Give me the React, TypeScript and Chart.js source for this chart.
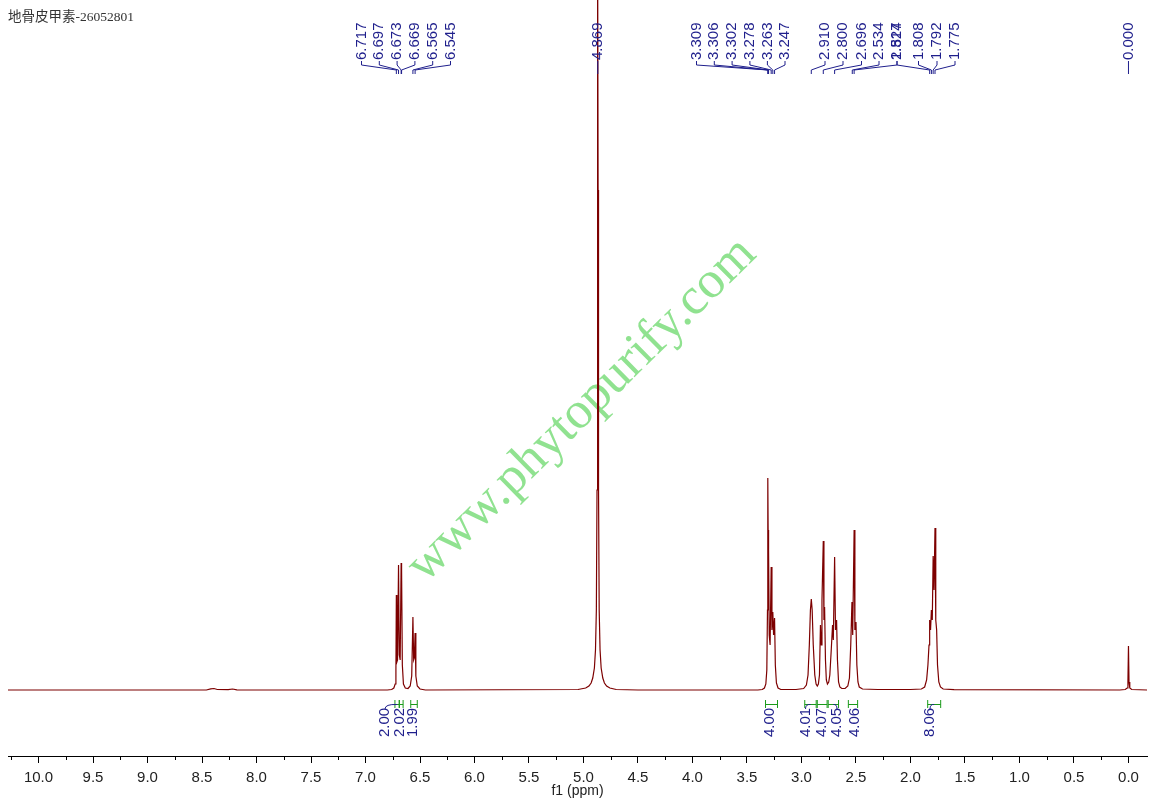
import React, { useEffect, useRef } from "react";
import { Chart, registerables } from "chart.js";

Chart.register(...registerables);

// ---------- data ----------
const TITLE = "地骨皮甲素-26052801";
const X_TITLE = "f1 (ppm)";
const X_MIN = -0.17;
const X_MAX = 10.28;
const TICK_VALUES = [0, 0.5, 1, 1.5, 2, 2.5, 3, 3.5, 4, 4.5, 5, 5.5, 6, 6.5, 7, 7.5, 8, 8.5, 9, 9.5, 10];
const MINOR_TICKS = [0.25, 0.75, 1.25, 1.75, 2.25, 2.75, 3.25, 3.75, 4.25, 4.75, 5.25, 5.75, 6.25, 6.75, 7.25, 7.75, 8.25, 8.75, 9.25, 9.75, 10.25];

// spectrum trace: chemical shift (ppm) and intensity
const SPEC_PPM = [
  10.28, 8.46, 8.42, 8.39, 8.36, 8.26, 8.22, 8.18, 6.8,
  6.76, 6.74, 6.728, 6.721, 6.717, 6.712, 6.706, 6.697, 6.69, 6.682, 6.673, 6.669, 6.662, 6.652, 6.635, 6.61, 6.59, 6.576, 6.565, 6.558, 6.552, 6.545, 6.538, 6.525, 6.5, 6.45,
  5.05, 4.98, 4.95, 4.93, 4.915, 4.9, 4.89, 4.882, 4.876, 4.872, 4.869, 4.866, 4.862, 4.856, 4.848, 4.838, 4.823, 4.808, 4.788, 4.758, 4.7,
  4.5, 3.4,
  3.36, 3.34, 3.327, 3.318, 3.312, 3.309, 3.306, 3.302, 3.296, 3.288, 3.278, 3.271, 3.263, 3.256, 3.247, 3.24, 3.23, 3.215, 3.19,
  3.05, 2.98, 2.955, 2.94, 2.928, 2.918, 2.91, 2.902, 2.892, 2.878, 2.866, 2.855,
  2.845, 2.835, 2.826, 2.818, 2.812, 2.8, 2.794, 2.788, 2.78, 2.772, 2.762, 2.75,
  2.74, 2.727, 2.715, 2.708, 2.696, 2.688, 2.678, 2.67, 2.66, 2.648, 2.63, 2.6,
  2.575, 2.56, 2.548, 2.537, 2.53, 2.517, 2.51, 2.5, 2.492, 2.482, 2.47, 2.44, 2.3, 2.0,
  1.9, 1.87, 1.852, 1.84, 1.83, 1.824, 1.816, 1.808, 1.8, 1.792, 1.784, 1.775, 1.768, 1.76, 1.752, 1.74, 1.725, 1.7, 1.6,
  0.08, 0.03, 0.012, 0.005, 0.0, -0.005, -0.012, -0.03, -0.17,
];
const SPEC_INT = [
  0, 0, 1.2, 1.5, 0.5, 0.3, 1, 0.2, 0,
  0.5, 2, 6, 20, 95, 28, 30, 125, 35, 30, 127, 120, 25, 6, 2, 1.5, 4, 14, 73, 30, 32, 57, 14, 4, 1, 0,
  0.5, 2, 4, 7, 12, 22, 40, 80, 200, 500, 760, 500, 200, 80, 40, 22, 12, 7, 4, 2, 0.5,
  0, 0,
  0.5, 2, 6, 20, 80, 212, 160, 140, 55, 45, 123, 60, 78, 55, 72, 25, 7, 2, 0.5,
  0.5, 1.5, 5, 15, 45, 80, 91, 80, 45, 15, 6, 4,
  6, 15, 65, 45, 90, 149, 70, 83, 30, 10, 6, 8,
  15, 40, 65, 50, 133, 60, 70, 30, 8, 3, 1.5, 1.5,
  4, 12, 45, 88, 55, 160, 60, 68, 25, 8, 3, 1, 0.5, 0.5,
  1, 3, 10, 25, 45, 70, 60, 80, 70, 134, 100, 162, 70, 60, 25, 8, 3, 1, 0.3,
  0, 0.5, 2, 8, 44, 8, 2, 0.5, 0,
];

// peak picking labels
const PEAKS_AROMATIC = [6.717, 6.697, 6.673, 6.669, 6.565, 6.545];
const PEAKS_MID = [3.309, 3.306, 3.302, 3.278, 3.263, 3.247];
const PEAKS_ALIPH = [2.91, 2.8, 2.696, 2.534, 2.517, 1.824, 1.808, 1.792, 1.775];
const PEAKS_SINGLE = [4.869, 0.0];

// integrals
const INT_VALUES = [2.0, 2.02, 1.99, 4.0, 4.01, 4.07, 4.05, 4.06, 8.06];
const INT_FROM = [6.73, 6.69, 6.585, 3.33, 2.97, 2.855, 2.755, 2.57, 1.842];
const INT_TO = [6.69, 6.655, 6.525, 3.22, 2.865, 2.765, 2.66, 2.485, 1.723];

// ---------- layout (text positions, px) ----------
const LABEL_X_AROMATIC = [361.5, 379.3, 397.1, 414.9, 432.7, 450.5];
const LABEL_X_MID = [696.5, 714.3, 732.1, 749.9, 767.4, 785];
const LABEL_X_ALIPH = [825, 843, 861.5, 879, 897, 897, 918.5, 937, 955];
const INT_LABEL_X = [385, 400, 413, 770, 805.5, 821.5, 837, 855, 930];

const SPEC_COLOR = "#7d0000";
const LABEL_COLOR = "#1f1f8c";
const INT_COLOR = "#1a9a1a";
const FONT = "'Liberation Sans', Arial, sans-serif";

const annotations = {
  id: "nmrAnnotations",
  beforeDatasetsDraw(chart: any) {
    const ctx = chart.ctx;
    ctx.save();
    ctx.translate(582, 410);
    ctx.rotate((-44.6 * Math.PI) / 180);
    ctx.font = "52px 'Liberation Serif', 'Times New Roman', serif";
    ctx.fillStyle = "#90e290";
    ctx.textAlign = "center";
    ctx.textBaseline = "middle";
    ctx.fillText("www.phytopurify.com", 0, 0);
    ctx.restore();
  },
  afterDraw(chart: any) {
    const ctx = chart.ctx;
    const xs = chart.scales.x;
    const area = chart.chartArea;

    // minor ticks
    ctx.save();
    ctx.strokeStyle = "#000";
    ctx.lineWidth = 1;
    ctx.beginPath();
    for (const v of MINOR_TICKS) {
      const px = Math.round(xs.getPixelForValue(v)) + 0.5;
      ctx.moveTo(px, area.bottom);
      ctx.lineTo(px, area.bottom + 4);
    }
    ctx.stroke();
    ctx.restore();

    // peak labels
    const drawLabel = (val: number, lx: number) => {
      const px = xs.getPixelForValue(val);
      ctx.save();
      ctx.translate(lx, 60);
      ctx.rotate(-Math.PI / 2);
      ctx.fillStyle = LABEL_COLOR;
      ctx.font = "15px " + FONT;
      ctx.textAlign = "left";
      ctx.textBaseline = "middle";
      ctx.fillText(val.toFixed(3), 0, 0);
      ctx.restore();
      ctx.save();
      ctx.strokeStyle = LABEL_COLOR;
      ctx.lineWidth = 1;
      ctx.beginPath();
      ctx.moveTo(lx, 61);
      ctx.lineTo(lx, 65);
      ctx.lineTo(px, 70);
      ctx.lineTo(px, 74);
      ctx.stroke();
      ctx.restore();
    };
    PEAKS_AROMATIC.forEach((v, i) => drawLabel(v, LABEL_X_AROMATIC[i]));
    PEAKS_MID.forEach((v, i) => drawLabel(v, LABEL_X_MID[i]));
    PEAKS_ALIPH.forEach((v, i) => drawLabel(v, LABEL_X_ALIPH[i]));
    PEAKS_SINGLE.forEach((v) => drawLabel(v, xs.getPixelForValue(v)));

    // integrals
    INT_VALUES.forEach((val, i) => {
      const x1 = xs.getPixelForValue(INT_FROM[i]);
      const x2 = xs.getPixelForValue(INT_TO[i]);
      const cx = (x1 + x2) / 2;
      const lx = INT_LABEL_X[i];
      ctx.save();
      ctx.strokeStyle = INT_COLOR;
      ctx.lineWidth = 1;
      ctx.beginPath();
      ctx.moveTo(x1, 704.5);
      ctx.lineTo(x2, 704.5);
      ctx.moveTo(x1, 700);
      ctx.lineTo(x1, 708);
      ctx.moveTo(x2, 700);
      ctx.lineTo(x2, 708);
      ctx.stroke();
      if (Math.abs(lx - cx) > 3) {
        ctx.strokeStyle = LABEL_COLOR;
        ctx.beginPath();
        ctx.moveTo(lx, 709);
        ctx.quadraticCurveTo(lx, 704, cx, 704.5);
        ctx.stroke();
      }
      ctx.translate(lx, 737);
      ctx.rotate(-Math.PI / 2);
      ctx.fillStyle = LABEL_COLOR;
      ctx.font = "15px " + FONT;
      ctx.textAlign = "left";
      ctx.textBaseline = "middle";
      ctx.fillText(val.toFixed(2), 0, 0);
      ctx.restore();
    });

    // title
    ctx.save();
    ctx.fillStyle = "#333";
    ctx.font = "13.5px 'Liberation Serif', 'Noto Sans CJK SC', serif";
    ctx.textAlign = "left";
    ctx.textBaseline = "middle";
    ctx.fillText(TITLE, 8, 17);
    ctx.restore();
  },
};

export default function App() {
  const ref = useRef<HTMLCanvasElement | null>(null);
  useEffect(() => {
    if (!ref.current) return;
    const data = SPEC_PPM.map((x, i) => ({ x, y: SPEC_INT[i] }));
    const chart = new Chart(ref.current, {
      type: "line",
      data: {
        datasets: [
          {
            data,
            borderColor: SPEC_COLOR,
            borderWidth: 1.2,
            pointRadius: 0,
            tension: 0,
            fill: false,
          },
        ],
      },
      options: {
        animation: false,
        responsive: false,
        devicePixelRatio: 1,
        layout: { padding: { left: 8, right: 10, top: 0, bottom: 0 } },
        plugins: { legend: { display: false }, tooltip: { enabled: false }, title: { display: false } },
        scales: {
          x: {
            type: "linear",
            reverse: true,
            min: X_MIN,
            max: X_MAX,
            afterFit: (s: any) => {
              s.height = 55;
            },
            afterBuildTicks: (s: any) => {
              s.ticks = TICK_VALUES.map((v) => ({ value: v }));
            },
            border: { display: true, color: "#000", width: 1 },
            grid: { display: true, drawOnChartArea: false, drawTicks: true, tickLength: 7, color: "#000", tickColor: "#000" },
            ticks: {
              autoSkip: false,
              maxRotation: 0,
              padding: 6,
              color: "#222",
              font: { family: FONT, size: 15 },
              callback: (v: any) => Number(v).toFixed(1),
            },
            title: {
              display: true,
              text: X_TITLE,
              color: "#222",
              font: { family: FONT, size: 14 },
              padding: { top: 0, bottom: 11 },
            },
          },
          y: { display: false, min: -66, max: 690 },
        },
      },
      plugins: [annotations],
    });
    return () => chart.destroy();
  }, []);
  return (
    <div style={{ position: "fixed", left: 0, top: 0, width: 1157, height: 811, background: "#fff" }}>
      <canvas ref={ref} width={1157} height={811} />
    </div>
  );
}
